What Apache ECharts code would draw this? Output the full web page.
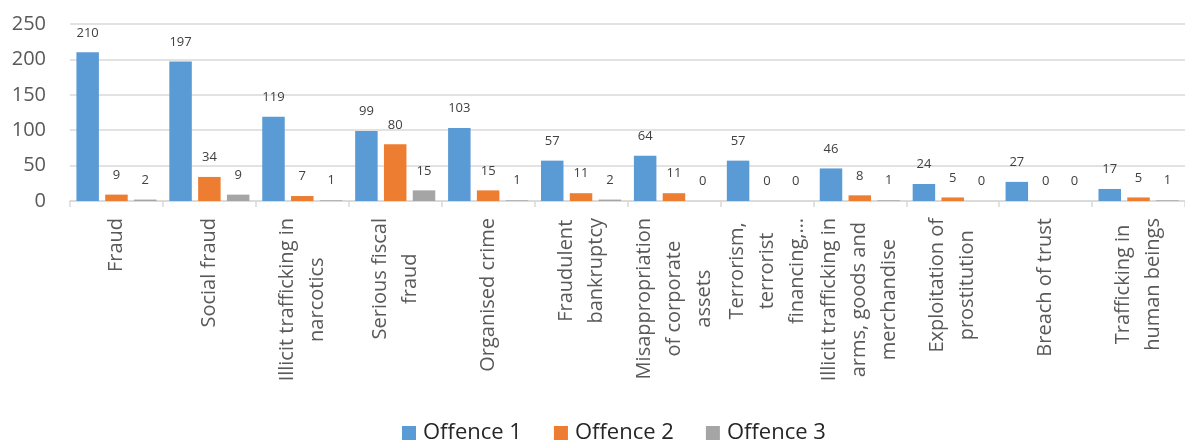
<!DOCTYPE html>
<html>
<head>
<meta charset="utf-8">
<script src="https://cdn.jsdelivr.net/npm/echarts@6/dist/echarts.min.js"></script>
<style>
  html, body { margin: 0; padding: 0; background: #fff; }
  #chart { width: 1185px; height: 441px; }
</style>
</head>
<body>
<div id="chart"></div>
<script>
// categories (line breaks as in the original chart)
var categories = [
  'Fraud',
  'Social fraud',
  'Illicit trafficking in\nnarcotics',
  'Serious fiscal\nfraud',
  'Organised crime',
  'Fraudulent\nbankruptcy',
  'Misappropriation\nof corporate\nassets',
  'Terrorism,\nterrorist\nfinancing,…',
  'Illicit trafficking in\narms, goods and\nmerchandise',
  'Exploitation of\nprostitution',
  'Breach of trust',
  'Trafficking in\nhuman beings'
];
var offence1 = [210, 197, 119, 99, 103, 57, 64, 57, 46, 24, 27, 17];
var offence2 = [9, 34, 7, 80, 15, 11, 11, 0, 8, 5, 0, 5];
var offence3 = [2, 9, 1, 15, 1, 2, 0, 0, 1, 0, 0, 1];
var yTicks = { min: 0, max: 250, interval: 50 };

var font = '"Open Sans", "DejaVu Sans", sans-serif';

function makeSeries(name, data, color) {
  return {
    name: name,
    type: 'bar',
    data: data,
    barWidth: 22.5,
    barGap: '28%',
    itemStyle: { color: color },
    label: {
      show: true,
      position: 'top',
      distance: 13,
      fontFamily: font,
      fontSize: 13,
      color: '#404040'
    }
  };
}

var myChart = echarts.init(document.getElementById('chart'));
var option = {
  animation: false,
  textStyle: { fontFamily: font },
  grid: { left: 70, top: 24, width: 1123, height: 177, containLabel: false },
  legend: {
    left: 397,
    top: 417,
    itemWidth: 14,
    itemHeight: 14,
    itemGap: 32,
    icon: 'rect',
    textStyle: { fontFamily: font, fontSize: 22, color: '#262626', padding: [0, 0, 0, 2] },
    data: ['Offence 1', 'Offence 2', 'Offence 3']
  },
  xAxis: {
    type: 'category',
    data: categories,
    axisLine: { lineStyle: { color: '#D9D9D9', width: 1.5 } },
    axisTick: { show: true, length: 6, lineStyle: { color: '#D9D9D9', width: 1.5 } },
    axisLabel: {
      rotate: 90,
      interval: 0,
      margin: 17,
      fontFamily: font,
      fontSize: 20,
      lineHeight: 30,
      color: '#595959',
      hideOverlap: false,
      // centre the lines of each label against each other
      formatter: function (value) {
        return value.split('\n').map(function (l) { return '{c|' + l + '}'; }).join('\n');
      },
      rich: {
        c: { align: 'center', fontFamily: font, fontSize: 20, lineHeight: 30, color: '#595959' }
      }
    }
  },
  yAxis: {
    type: 'value',
    min: yTicks.min,
    max: yTicks.max,
    interval: yTicks.interval,
    axisLine: { show: false },
    axisTick: { show: false },
    splitLine: { lineStyle: { color: '#D9D9D9', width: 1.5 } },
    axisLabel: { margin: 24, fontFamily: font, fontSize: 20, color: '#595959' }
  },
  series: [
    makeSeries('Offence 1', offence1, '#5B9BD5'),
    makeSeries('Offence 2', offence2, '#ED7D31'),
    makeSeries('Offence 3', offence3, '#A5A5A5')
  ]
};
myChart.setOption(option);
</script>
</body>
</html>
